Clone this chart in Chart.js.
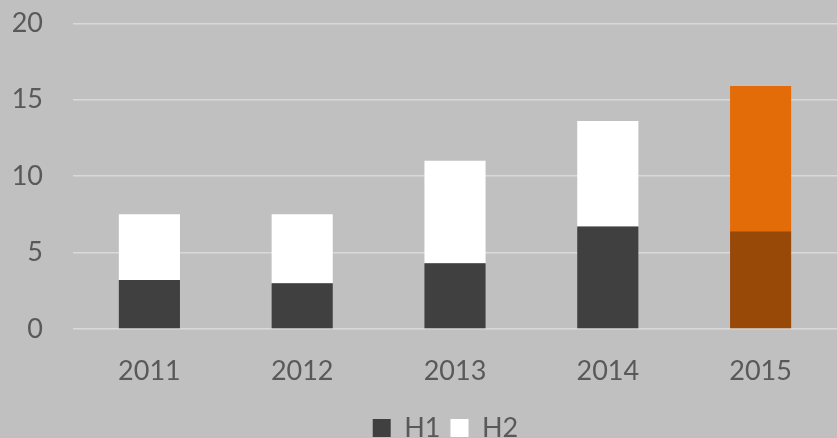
<!DOCTYPE html>
<html>
<head>
<meta charset="utf-8">
<script src="https://cdn.jsdelivr.net/npm/chart.js@4"></script>
<style>
html,body{margin:0;padding:0;background:#c0c0c0;}
#wrap{width:837px;height:438px;position:relative;}
</style>
</head>
<body>
<div id="wrap"><canvas id="c" width="837" height="438"></canvas></div>
<script>
const categories = ['2011', '2012', '2013', '2014', '2015'];
const h1Values = [3.2, 3.0, 4.3, 6.7, 6.4];
const h2Values = [4.3, 4.5, 6.7, 6.9, 9.5];
const yTicks = [0, 5, 10, 15, 20];
const seriesNames = ['H1', 'H2'];

const FONT = 'Lato, "Open Sans", sans-serif';
const TXT = '#595959';
const highlightIndex = 4;

const legendShift = {
  id: 'legendShift',
  afterLayout(chart) {
    if (chart.legend) {
      chart.legend.left += 27;
      chart.legend.right += 27;
    }
  }
};

new Chart(document.getElementById('c'), {
  type: 'bar',
  data: {
    labels: categories,
    datasets: [
      {
        label: seriesNames[0],
        data: h1Values,
        backgroundColor: (ctx) => ctx.dataIndex === highlightIndex ? '#984807' : '#404040',
        barPercentage: 0.4,
        categoryPercentage: 1.0
      },
      {
        label: seriesNames[1],
        data: h2Values,
        backgroundColor: (ctx) => ctx.dataIndex === highlightIndex ? '#e36c09' : '#ffffff',
        barPercentage: 0.4,
        categoryPercentage: 1.0
      }
    ]
  },
  plugins: [legendShift],
  options: {
    responsive: false,
    animation: false,
    layout: { padding: { top: 0, right: 0, left: 0, bottom: -13.5 } },
    plugins: {
      tooltip: { enabled: false },
      legend: {
        position: 'bottom',
        labels: {
          color: TXT,
          font: { family: FONT, size: 27 },
          boxWidth: 18,
          boxHeight: 18,
          padding: 10
        }
      }
    },
    scales: {
      x: {
        stacked: true,
        grid: { display: false, drawTicks: false },
        border: { display: false },
        ticks: { color: TXT, font: { family: FONT, size: 27 }, padding: 26.5 },
        afterFit: (axis) => { axis.height = 75.5; }
      },
      y: {
        stacked: true,
        min: 0,
        max: 20,
        afterBuildTicks: (axis) => { axis.ticks = yTicks.map(v => ({ value: v })); },
        afterFit: (axis) => { axis.width = 73; axis.paddingTop = 23.3; axis.paddingBottom = 0; },
        grid: { color: '#d9d9d9', lineWidth: 1.5, drawTicks: false },
        border: { display: false },
        ticks: { color: TXT, font: { family: FONT, size: 27 }, padding: 30 }
      }
    }
  }
});
</script>
</body>
</html>
